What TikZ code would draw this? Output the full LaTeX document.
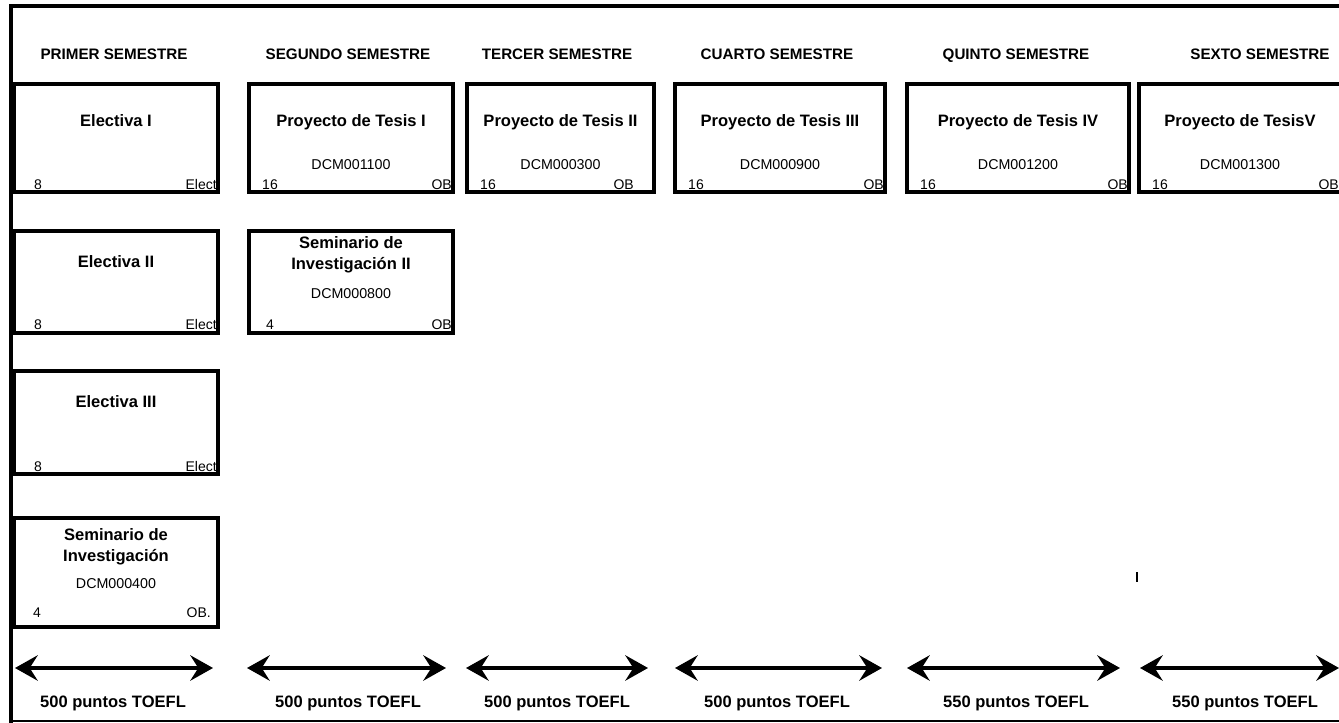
\documentclass[tikz,border=0pt]{standalone}
\usepackage{fontspec}
\setmainfont{Liberation Sans}
\usetikzlibrary{arrows.meta,calc}

\begin{document}
\begin{tikzpicture}[x=0.75pt,y=-0.75pt,
   caja/.style={draw,line width=3pt,anchor=north west,inner sep=0pt},
   tam/.style 2 args={minimum width=#1*0.75pt,minimum height=#2*0.75pt},
   semestre/.style={font=\bfseries\fontsize{11.4}{13}\selectfont,text height=1.6ex,text depth=0.4ex},
   titulo/.style={font=\bfseries\fontsize{12.4}{16}\selectfont,text height=1.6ex,text depth=0.4ex},
   titulos/.style={font=\bfseries\fontsize{12.4}{16}\selectfont,align=center},
   clave/.style={font=\fontsize{10.7}{12}\selectfont},
   cred/.style={font=\fontsize{10.5}{12}\selectfont,inner sep=0pt,anchor=base},
   tipo/.style={font=\fontsize{10.5}{12}\selectfont,inner sep=0pt,anchor=base east},
   toefl/.style={font=\bfseries\fontsize{12.4}{14}\selectfont},
   flecha/.style={line width=3pt,
     {Stealth[length=17pt,width=19pt,inset=6pt]}-{Stealth[length=17pt,width=19pt,inset=6pt]}}]
   \useasboundingbox (0,0) rectangle (1339,723);

   % marco
   \draw[line width=3pt] (11,723) -- (11,6) -- (1339,6);
   \draw[line width=1.2pt] (11,721) -- (1339,721);
   \draw[line width=0.8pt] (1137,572) -- (1137,582);

   % semestres
   \node[semestre] (sem1) at ( 114,55) {PRIMER SEMESTRE};
   \node[semestre] (sem2) at ( 348,55) {SEGUNDO SEMESTRE};
   \node[semestre] (sem3) at ( 557,55) {TERCER SEMESTRE};
   \node[semestre] (sem4) at ( 777,55) {CUARTO SEMESTRE};
   \node[semestre] (sem5) at (1016,55) {QUINTO SEMESTRE};
   \node[semestre] (sem6) at (1260,55) {SEXTO SEMESTRE};

   % primera fila
   \node[caja,tam={204}{108}] (elec1) at (  12,82) {};
   \node[caja,tam={204}{108}] (tes1)  at ( 247,82) {};
   \node[caja,tam={187}{108}] (tes2)  at ( 465,82) {};
   \node[caja,tam={210}{108}] (tes3)  at ( 673,82) {};
   \node[caja,tam={222}{108}] (tes4)  at ( 905,82) {};
   \node[caja,tam={206}{108}] (tes5)  at (1137,82) {};

   \node[titulo] (telec1) at ($(elec1.north)+(0,40)$) {Electiva I};
   \node[cred] at ($(elec1.south west)+(26,-4)$) {8};
   \node[tipo] at ($(elec1.south east)+(-3,-4)$) {Elect};

   \node[titulo] (ttes1) at ($(tes1.north)+(0,40)$) {Proyecto de Tesis I};
   \node[clave]  (ktes1) at ($(tes1.north)+(0,83)$) {DCM001100};
   \node[cred] at ($(tes1.south west)+(23,-4)$) {16};
   \node[tipo] at ($(tes1.south east)+(-3,-4)$) {OB};

   \node[titulo] (ttes2) at ($(tes2.north)+(0,40)$) {Proyecto de Tesis II};
   \node[clave]  (ktes2) at ($(tes2.north)+(0,83)$) {DCM000300};
   \node[cred] at ($(tes2.south west)+(23,-4)$) {16};
   \node[tipo] at ($(tes2.south east)+(-22,-4)$) {OB};

   \node[titulo] (ttes3) at ($(tes3.north)+(0,40)$) {Proyecto de Tesis III};
   \node[clave]  (ktes3) at ($(tes3.north)+(0,83)$) {DCM000900};
   \node[cred] at ($(tes3.south west)+(23,-4)$) {16};
   \node[tipo] at ($(tes3.south east)+(-3,-4)$) {OB};

   \node[titulo] (ttes4) at ($(tes4.north)+(0,40)$) {Proyecto de Tesis IV};
   \node[clave]  (ktes4) at ($(tes4.north)+(0,83)$) {DCM001200};
   \node[cred] at ($(tes4.south west)+(23,-4)$) {16};
   \node[tipo] at ($(tes4.south east)+(-3,-4)$) {OB};

   \node[titulo] (ttes5) at ($(tes5.north)+(-2,40)$) {Proyecto de TesisV};
   \node[clave]  (ktes5) at ($(tes5.north)+(-2,83)$) {DCM001300};
   \node[cred] at ($(tes5.south west)+(23,-4)$) {16};
   \node[tipo] at ($(tes5.south east)+(-8,-4)$) {OB};

   % segunda fila
   \node[caja,tam={204}{102}] (elec2) at ( 12,229) {};
   \node[caja,tam={204}{102}] (sem2b) at (247,229) {};

   \node[titulo] (telec2) at ($(elec2.north)+(0,34)$) {Electiva II};
   \node[cred] at ($(elec2.south west)+(26,-5)$) {8};
   \node[tipo] at ($(elec2.south east)+(-3,-5)$) {Elect};

   \node[titulos] (tsem2b) at ($(sem2b.north)+(0,26)$) {Seminario de\\Investigación II};
   \node[clave]  (ksem2b) at ($(sem2b.north)+(0,65)$) {DCM000800};
   \node[cred] at ($(sem2b.south west)+(23,-5)$) {4};
   \node[tipo] at ($(sem2b.south east)+(-3,-5)$) {OB};

   % tercera fila
   \node[caja,tam={204}{103}] (elec3) at (12,369) {};
   \node[titulo] (telec3) at ($(elec3.north)+(0,34)$) {Electiva III};
   \node[cred] at ($(elec3.south west)+(26,-5)$) {8};
   \node[tipo] at ($(elec3.south east)+(-3,-5)$) {Elect};

   % cuarta fila
   \node[caja,tam={204}{109}] (sem1b) at (12,516) {};
   \node[titulos] (tsem1b) at ($(sem1b.north)+(0,31)$) {Seminario de\\Investigación};
   \node[clave]  (ksem1b) at ($(sem1b.north)+(0,68)$) {DCM000400};
   \node[cred] at ($(sem1b.south west)+(25,-12)$) {4};
   \node[tipo] at ($(sem1b.south east)+(-9,-12)$) {OB.};

   % flechas
   \coordinate (f1a) at (  15,668); \coordinate (f1b) at ( 213,668);
   \coordinate (f2a) at ( 247,668); \coordinate (f2b) at ( 446,668);
   \coordinate (f3a) at ( 466,668); \coordinate (f3b) at ( 648,668);
   \coordinate (f4a) at ( 675,668); \coordinate (f4b) at ( 882,668);
   \coordinate (f5a) at ( 907,668); \coordinate (f5b) at (1120,668);
   \coordinate (f6a) at (1140,668); \coordinate (f6b) at (1339,668);
   \draw[flecha] (f1a) -- (f1b);
   \draw[flecha] (f2a) -- (f2b);
   \draw[flecha] (f3a) -- (f3b);
   \draw[flecha] (f4a) -- (f4b);
   \draw[flecha] (f5a) -- (f5b);
   \draw[flecha] (f6a) -- (f6b);

   % toefl
   \node[toefl] (tf1) at ( 113,703) {500 puntos TOEFL};
   \node[toefl] (tf2) at ( 348,703) {500 puntos TOEFL};
   \node[toefl] (tf3) at ( 557,703) {500 puntos TOEFL};
   \node[toefl] (tf4) at ( 777,703) {500 puntos TOEFL};
   \node[toefl] (tf5) at (1016,703) {550 puntos TOEFL};
   \node[toefl] (tf6) at (1245,703) {550 puntos TOEFL};
\end{tikzpicture}
\end{document}
